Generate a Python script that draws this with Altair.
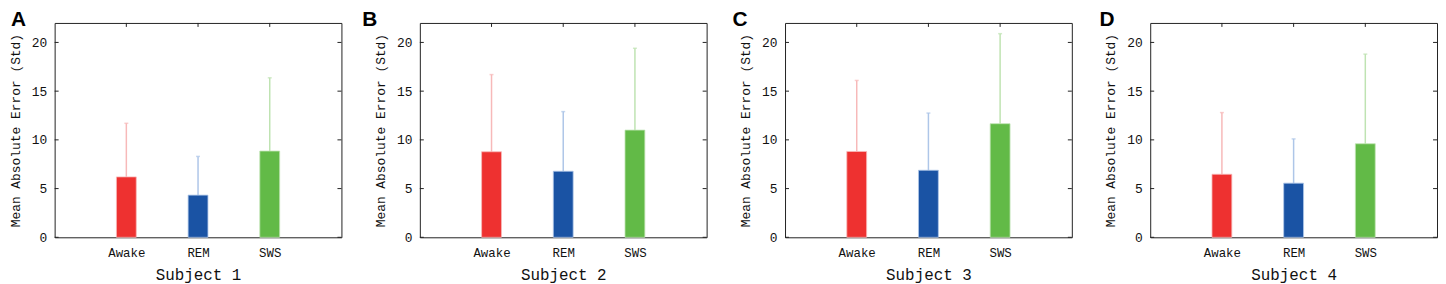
import altair as alt
import pandas as pd

stages = ["Awake", "REM", "SWS"]
subjects = ["Subject 1", "Subject 2", "Subject 3", "Subject 4"]
letters = ["A", "B", "C", "D"]

mean_s1 = [6.2, 4.33, 8.85]
std_s1 = [5.5, 3.97, 7.52]
mean_s2 = [8.78, 6.78, 11.0]
std_s2 = [7.92, 6.12, 8.4]
mean_s3 = [8.81, 6.88, 11.66]
std_s3 = [7.29, 5.87, 9.24]
mean_s4 = [6.47, 5.56, 9.6]
std_s4 = [6.33, 4.54, 9.2]

y_ticks = [0, 5, 10, 15, 20]

bar_colors = ["#ee3130", "#1a53a4", "#62ba47"]
err_colors = ["#f7b9b9", "#aec6e8", "#bfe3b2"]

means = [mean_s1, mean_s2, mean_s3, mean_s4]
stds = [std_s1, std_s2, std_s3, std_s4]

W = 289
H = 216
MONO = "Liberation Mono"
letter_dx = [-44, -58, -53, -51]


def panel(i):
    df = pd.DataFrame({
        "stage": stages,
        "mean": means[i],
        "top": [m + s for m, s in zip(means[i], stds[i])],
    })
    tick_df = pd.DataFrame({"v": y_ticks})
    cat_df = pd.DataFrame({"stage": stages})

    xenc = alt.X(
        "stage:N",
        sort=stages,
        scale=alt.Scale(type="point", padding=1),
        axis=alt.Axis(
            title=subjects[i], labelAngle=0, ticks=False, tickSize=0, domain=False,
            labelFont=MONO, labelFontSize=12.5, labelColor="#111", labelPadding=9,
            titleFont=MONO, titleFontSize=16, titleFontWeight="normal",
            titleColor="#111", titlePadding=8,
        ),
    )
    yscale = alt.Scale(domain=[0, 22], nice=False, zero=True)
    yaxis = alt.Axis(
        title="Mean Absolute Error (Std)", values=y_ticks, grid=False,
        ticks=False, tickSize=0, domain=False, labelPadding=8,
        labelFont=MONO, labelFontSize=13, labelColor="#111",
        titleFont=MONO, titleFontSize=13, titleFontWeight="normal",
        titleColor="#111", titlePadding=9,
    )
    color_err = alt.Color("stage:N", sort=stages,
                          scale=alt.Scale(domain=stages, range=err_colors), legend=None)

    base = alt.Chart(df)
    err = base.mark_rule(strokeWidth=1.5).encode(
        x=xenc, y=alt.Y("mean:Q", scale=yscale, axis=yaxis), y2="top:Q",
        color=color_err,
    )
    cap = base.mark_tick(orient="horizontal", size=4, thickness=1.5).encode(
        x=alt.X("stage:N", sort=stages), y=alt.Y("top:Q"),
        color=color_err,
    )
    bars = base.mark_bar(size=20).encode(
        x=alt.X("stage:N", sort=stages), y=alt.Y("mean:Q"),
        fill=alt.Fill("stage:N", sort=stages,
                      scale=alt.Scale(domain=stages, range=bar_colors), legend=None),
        stroke=alt.Stroke("stage:N", sort=stages,
                          scale=alt.Scale(domain=stages, range=err_colors), legend=None),
        strokeWidth=alt.value(0.8),
    )
    left_t = alt.Chart(tick_df).mark_rule(color="#222", strokeWidth=1).encode(
        y="v:Q", x=alt.value(0), x2=alt.value(4))
    right_t = alt.Chart(tick_df).mark_rule(color="#222", strokeWidth=1).encode(
        y="v:Q", x=alt.value(W - 4), x2=alt.value(W))
    top_t = alt.Chart(cat_df).mark_rule(color="#222", strokeWidth=1).encode(
        x=alt.X("stage:N", sort=stages), y=alt.value(0), y2=alt.value(4))

    return alt.layer(err, cap, bars, left_t, right_t, top_t).resolve_scale(
        color="independent"
    ).properties(
        width=W, height=H,
        title=alt.TitleParams(
            text=letters[i], anchor="start", frame="group", dx=letter_dx[i],
            font="Liberation Sans", fontSize=21, fontWeight="bold", color="#000",
            offset=-8,
        ),
    )


chart = alt.hconcat(*[panel(i) for i in range(4)], spacing=79, bounds="flush").configure(
    padding=0, background="white"
).configure_view(stroke="#222", strokeWidth=1)

chart.save("out.html", embed_options={"renderer": "svg", "actions": False})
